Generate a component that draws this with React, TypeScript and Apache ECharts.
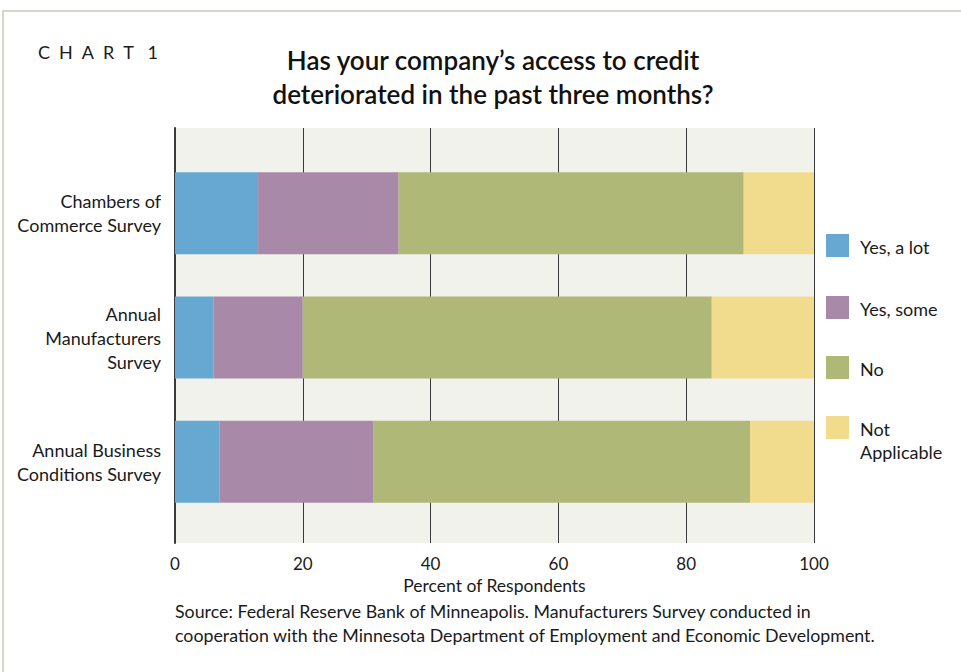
import React, { useEffect, useRef } from "react";
import * as echarts from "echarts";

const categories = [
  "Chambers of\nCommerce Survey",
  "Annual\nManufacturers\nSurvey",
  "Annual Business\nConditions Survey",
];
const seriesNames = ["Yes, a lot", "Yes, some", "No", "Not\nApplicable"];
const yesALot = [13, 6, 7];
const yesSome = [22, 14, 24];
const no = [54, 64, 59];
const notApplicable = [11, 16, 10];
const colors = ["#67a8d2", "#a989a8", "#b0b877", "#f1db8d"];
const xTicks = [0, 20, 40, 60, 80, 100];

const FONT = "Lato, 'Open Sans', sans-serif";

export default function App() {
  const ref = useRef<HTMLDivElement>(null);
  useEffect(() => {
    if (!ref.current) return;
    const chart = echarts.init(ref.current, null, { renderer: "svg" });
    const values = [yesALot, yesSome, no, notApplicable];
    const legendGraphics: any[] = [];
    const legendTop = [234, 296, 356, 416];
    seriesNames.forEach((name, i) => {
      legendGraphics.push({
        type: "rect",
        shape: { x: 826, y: legendTop[i], width: 23, height: 23 },
        style: { fill: colors[i] },
      });
      legendGraphics.push({
        type: "text",
        x: 860,
        y: legendTop[i] + 1,
        style: {
          text: name,
          fill: "#1a1a1a",
          font: `18px ${FONT}`,
          lineHeight: 23,
          textVerticalAlign: "top",
        },
      });
    });
    chart.setOption({
      animation: false,
      backgroundColor: "#ffffff",
      grid: [
        {
          left: 175,
          right: 147,
          top: 128,
          bottom: 129,
          show: true,
          backgroundColor: "#f2f2ec",
          borderWidth: 0,
        },
        { left: 175, right: 147, top: 151, bottom: 148 },
      ],
      xAxis: [
        {
          type: "value",
          gridIndex: 0,
          min: 0,
          max: 100,
          interval: 20,
          name: "Percent of Respondents",
          nameLocation: "middle",
          nameGap: 33,
          nameTextStyle: { color: "#1a1a1a", fontSize: 17.5, fontFamily: FONT },
          axisLabel: {
            color: "#1a1a1a",
            fontSize: 17,
            fontFamily: FONT,
            margin: 12,
            formatter: (v: number) => (xTicks.includes(v) ? String(v) : ""),
          },
          axisLine: { show: false },
          axisTick: { show: false },
          splitLine: { show: true, lineStyle: { color: "#3a3a3a", width: 1 } },
        },
        {
          type: "value",
          gridIndex: 1,
          min: 0,
          max: 100,
          interval: 20,
          show: false,
        },
      ],
      yAxis: [
        {
          type: "value",
          gridIndex: 0,
          min: 0,
          max: 1,
          axisLine: { show: true, lineStyle: { color: "#3a3a3a", width: 2 } },
          axisTick: { show: false },
          axisLabel: { show: false },
          splitLine: { show: false },
        },
        {
          type: "category",
          gridIndex: 1,
          data: categories,
          inverse: true,
          axisLine: { show: false },
          axisTick: { show: false },
          axisLabel: {
            color: "#1a1a1a",
            fontSize: 18,
            fontFamily: FONT,
            lineHeight: 24,
            margin: 14,
            align: "right",
          },
          splitLine: { show: false },
        },
      ],
      series: seriesNames.map((name, i) => ({
        type: "bar",
        name,
        stack: "total",
        xAxisIndex: 1,
        yAxisIndex: 1,
        data: values[i],
        barWidth: 82,
        itemStyle: { color: colors[i] },
      })),
      graphic: [
        {
          type: "rect",
          shape: { x: 3, y: 11, width: 1000, height: 700 },
          style: { fill: "none", stroke: "#c9c9b9", lineWidth: 1.5 },
        },
        {
          type: "text",
          x: 38,
          y: 43,
          style: {
            text: "C\u2002H\u2002A\u2002R\u2002T\u2002 1",
            fill: "#1a1a1a",
            font: `18px ${FONT}`,
          },
        },
        {
          type: "text",
          x: 493,
          y: 43,
          style: {
            text: "Has your company\u2019s access to credit\ndeteriorated in the past three months?",
            fill: "#111111",
            font: `600 26px ${FONT}`,
            lineHeight: 34,
            textAlign: "center",
          },
        },
        {
          type: "text",
          x: 175,
          y: 599,
          style: {
            text: "Source: Federal Reserve Bank of Minneapolis. Manufacturers Survey conducted in\ncooperation with the Minnesota Department of Employment and Economic Development.",
            fill: "#1a1a1a",
            font: `17.8px ${FONT}`,
            lineHeight: 24,
          },
        },
        ...legendGraphics,
      ],
    });
    return () => chart.dispose();
  }, []);
  return (
    <div
      ref={ref}
      style={{ position: "absolute", left: 0, top: 0, width: 961, height: 672 }}
    />
  );
}
